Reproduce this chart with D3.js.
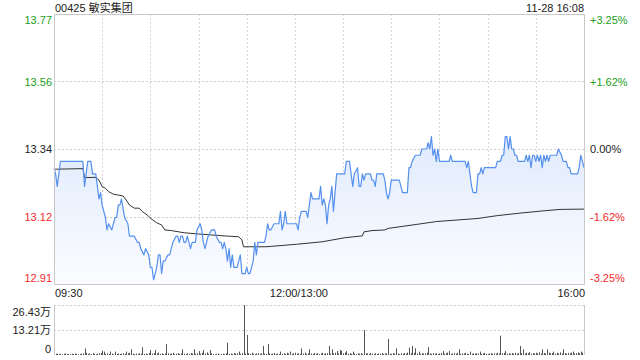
<!DOCTYPE html>
<html>
<head>
<meta charset="utf-8">
<script src="https://cdn.jsdelivr.net/npm/d3@7"></script>
<style>
  body { margin: 0; background: #fff; }
  text { font-family: Arial, "Liberation Sans", "Noto Sans CJK SC", sans-serif; font-size: 11px; }
</style>
</head>
<body>
<svg width="640" height="360"></svg>
<script>
// minute offsets from 09:30 (lunch break skipped, 0..330)
const priceIdx = [0,1,2,4,18,19,20,21,23,24,26,27,28,29,30,32,33,34,36,38,39,40,41,42,44,46,47,50,52,53,54,56,57,59,60,61,62,64,65,66,67,68,69,71,72,73,74,76,77,78,79,80,81,82,83,85,86,88,89,91,92,93,94,96,98,100,101,103,104,105,106,107,108,109,110,111,112,114,116,117,119,120,121,122,123,124,125,126,127,131,132,133,134,135,137,140,141,142,143,144,145,151,152,153,154,157,158,159,160,161,165,166,167,168,169,170,171,172,173,174,175,176,181,182,184,185,186,187,189,190,191,192,193,194,197,198,199,200,201,205,206,207,208,209,210,215,216,217,220,221,222,223,225,228,229,232,233,234,235,236,237,238,239,240,246,247,248,256,257,258,259,260,261,263,264,265,266,267,268,275,276,278,279,280,281,282,283,284,285,286,287,288,289,293,294,295,296,297,298,299,300,301,302,303,304,305,306,307,308,309,313,314,316,317,319,320,321,322,326,327,328,329,330];
const priceVal = [13.28,13.26,13.22,13.30,13.30,13.22,13.26,13.30,13.30,13.26,13.26,13.22,13.18,13.20,13.16,13.12,13.08,13.10,13.08,13.12,13.12,13.16,13.16,13.18,13.12,13.10,13.06,13.06,13.04,13.04,13.02,13.00,13.02,13.00,12.96,12.96,12.92,12.96,13.00,13.00,12.94,12.98,12.98,13.00,13.00,13.02,13.04,13.06,13.06,13.04,13.06,13.06,13.04,13.04,13.06,13.02,13.04,13.04,13.08,13.10,13.08,13.04,13.02,13.06,13.08,13.08,13.06,13.04,13.04,13.02,13.04,13.02,12.98,13.02,12.96,13.00,12.96,12.96,13.00,12.94,12.94,12.96,12.94,12.94,12.96,12.98,13.04,13.00,13.04,13.04,13.06,13.10,13.08,13.08,13.10,13.10,13.14,13.08,13.10,13.14,13.10,13.10,13.08,13.12,13.14,13.14,13.12,13.16,13.20,13.18,13.18,13.22,13.16,13.18,13.16,13.10,13.16,13.18,13.22,13.14,13.20,13.26,13.26,13.30,13.30,13.26,13.22,13.26,13.28,13.22,13.22,13.26,13.24,13.26,13.26,13.24,13.24,13.22,13.26,13.26,13.24,13.20,13.18,13.20,13.24,13.24,13.22,13.20,13.20,13.28,13.28,13.30,13.32,13.32,13.34,13.34,13.36,13.34,13.38,13.32,13.34,13.30,13.34,13.30,13.30,13.32,13.30,13.30,13.28,13.30,13.26,13.22,13.20,13.20,13.26,13.26,13.28,13.26,13.28,13.28,13.30,13.30,13.32,13.32,13.38,13.38,13.34,13.38,13.34,13.34,13.32,13.32,13.30,13.30,13.32,13.30,13.32,13.28,13.32,13.32,13.30,13.32,13.30,13.32,13.28,13.32,13.30,13.32,13.30,13.32,13.32,13.34,13.32,13.30,13.30,13.28,13.28,13.26,13.26,13.28,13.32,13.30,13.28];

const avgIdx = [0,18,19,26,28,30,32,34,37,40,43,45,47,50,53,55,58,61,64,67,69,73,81,90,98,106,115,117,118,132,151,167,181,192,193,198,206,208,226,238,264,276,290,304,315,330];
const avgVal = [13.275,13.277,13.248,13.249,13.240,13.219,13.214,13.203,13.195,13.192,13.189,13.176,13.160,13.150,13.150,13.139,13.128,13.114,13.103,13.096,13.080,13.078,13.071,13.067,13.064,13.061,13.058,13.048,13.026,13.026,13.034,13.042,13.055,13.061,13.074,13.078,13.080,13.085,13.098,13.107,13.117,13.126,13.134,13.141,13.146,13.147];

// volume per minute, in 万 shares
const volume = [
  1.2,0.6,0.8,0.5,0.7,0.4,0.6,0.9,0.5,0.6,
  0.4,0.7,0.5,0.8,0.6,0.4,0.5,0.7,0.9,3.5,
  1.2,0.6,0.8,0.5,1.0,0.6,0.4,0.7,0.9,1.1,
  2.3,1.8,0.6,0.9,0.5,1.8,0.7,0.4,1.8,0.6,
  0.8,0.5,0.7,1.0,0.6,1.8,0.9,1.2,3.0,0.7,
  0.5,0.8,0.6,0.9,0.7,4.1,0.6,0.8,0.5,1.1,
  2.6,0.7,1.0,2.6,0.8,1.3,0.6,0.9,0.5,0.8,
  5.8,0.9,0.6,0.8,1.2,0.5,0.7,1.0,0.6,0.8,
  3.0,0.7,0.5,0.9,0.6,1.1,0.8,3.0,0.6,0.9,
  2.1,0.7,1.2,2.6,0.8,1.4,0.6,2.6,0.9,0.5,
  0.4,0.6,0.8,0.3,0.5,0.7,0.4,0.9,6.5,0.6,
  0.8,0.5,1.1,0.7,0.9,1.8,0.6,1.0,26.43,0.8,
  10.6,0.9,0.6,1.2,0.7,0.5,0.8,1.0,0.6,0.9,
  4.8,0.7,0.6,5.8,0.9,0.5,0.7,1.1,0.6,0.8,
  0.5,1.8,0.7,0.9,0.6,1.2,0.8,1.8,0.6,0.9,
  1.2,0.7,0.9,0.6,3.5,0.8,1.3,0.6,0.9,3.0,
  0.8,0.6,1.1,0.7,0.9,0.5,0.8,1.2,0.6,0.9,
  1.0,4.8,0.7,3.0,0.9,1.2,2.1,0.8,2.6,2.3,
  0.9,1.3,2.1,0.7,1.0,0.6,1.8,0.8,0.5,0.9,
  0.7,1.0,0.6,13.2,0.8,0.9,0.5,1.1,0.7,0.6,
  0.9,0.5,0.8,0.7,1.0,0.6,0.8,0.9,8.5,0.7,
  0.6,1.0,0.8,3.5,0.7,0.5,0.9,0.6,1.1,0.7,
  1.3,3.9,1.0,4.8,1.2,3.5,0.8,1.8,0.6,1.0,
  0.7,0.9,1.2,4.1,0.8,0.6,1.0,0.7,0.9,0.5,
  0.8,1.1,2.1,0.7,0.9,1.3,2.1,0.6,0.8,1.0,
  0.7,1.2,3.0,0.6,0.9,0.8,1.1,0.7,0.5,1.8,
  0.6,0.9,0.7,1.0,0.8,1.8,0.6,0.9,1.1,0.7,
  0.5,0.8,1.0,0.6,0.9,0.7,1.2,0.8,10.2,0.9,
  1.1,2.1,0.7,0.9,0.6,1.0,0.8,1.2,0.7,0.9,
  4.8,1.0,3.0,0.8,1.2,0.9,1.5,0.7,1.0,0.8,
  1.2,0.9,1.4,0.7,3.0,1.1,0.8,3.0,1.3,0.9,
  1.0,1.8,0.7,1.2,0.9,1.4,0.8,3.0,1.0,0.7,
  1.1,0.9,1.3,1.8,0.8,1.0,1.4,0.9,1.8,1.2,
  3.5
];

const prevClose = 13.34;
const priceTicks = ["13.77", "13.56", "13.34", "13.12", "12.91"];
const pctTicks = ["+3.25%", "+1.62%", "0.00%", "-1.62%", "-3.25%"];
const timeLabels = ["09:30", "12:00/13:00", "16:00"];
const volTicks = ["26.43万", "13.21万", "0"];
const title = "00425 敏实集团";
const stamp = "11-28 16:08";

let svg = d3.select("svg");

const plotLeft = 54, plotRight = 584, plotTop = 14, plotBottom = 284;
const volTop = 305, volBottom = 355;
const volMax = 26.43;

let x = d3.scaleLinear().domain([0, 330]).range([plotLeft, plotRight]);
let y = d3.scaleLinear()
    .domain([prevClose * (1 - 0.0325), prevClose * (1 + 0.0325)])
    .range([plotBottom, plotTop]);
let yv = d3.scaleLinear().domain([0, volMax]).range([volBottom, volTop]);

const green = "#22a022", red = "#f02a2a", black = "#222";
const tickColor = (i) => i < 2 ? green : (i == 2 ? black : red);
const levels = [2, 1, 0, -1, -2].map(k => prevClose * (1 + k * 0.01625));

// gradient for the area under the price line
let defs = svg.append("defs");
let grad = defs.append("linearGradient")
    .attr("id", "fillGrad")
    .attr("gradientUnits", "userSpaceOnUse")
    .attr("x1", 0).attr("x2", 0)
    .attr("y1", plotTop).attr("y2", plotBottom);
grad.append("stop").attr("offset", 0).attr("stop-color", "#cadcfa");
grad.append("stop").attr("offset", 1).attr("stop-color", "#fbfcff");

// grid
let grid = svg.append("g");
grid.selectAll(".hgrid")
    .data(levels.slice(1, 4))
    .enter()
    .append("line")
    .attr("x1", plotLeft).attr("x2", plotRight)
    .attr("y1", d => Math.round(y(d)) + 0.5)
    .attr("y2", d => Math.round(y(d)) + 0.5)
    .attr("stroke", "#cfcfcf")
    .attr("stroke-dasharray", "2,2");

grid.selectAll(".vgrid")
    .data(d3.range(30, 330, 30))
    .enter()
    .append("line")
    .attr("x1", d => Math.round(x(d)) + 0.5)
    .attr("x2", d => Math.round(x(d)) + 0.5)
    .attr("y1", plotTop).attr("y2", plotBottom)
    .attr("stroke", "#d6d6d6")
    .attr("stroke-dasharray", "2,2");

// watermark
svg.append("text")
    .attr("x", 574).attr("y", 282)
    .attr("text-anchor", "end")
    .attr("fill", "#d0d0d0")
    .text("sina.com");

let pts = priceIdx.map((d, i) => [d, priceVal[i]]);

svg.append("path")
    .datum(pts)
    .attr("fill", "url(#fillGrad)")
    .attr("d", d3.area()
        .x(d => x(d[0]))
        .y0(plotBottom)
        .y1(d => y(d[1])));

svg.append("path")
    .datum(avgIdx.map((d, i) => [d, avgVal[i]]))
    .attr("fill", "none")
    .attr("stroke", "#333")
    .attr("stroke-width", 1)
    .attr("d", d3.line().x(d => x(d[0])).y(d => y(d[1])));

svg.append("path")
    .datum(pts)
    .attr("fill", "none")
    .attr("stroke", "#5590ee")
    .attr("stroke-width", 1.2)
    .attr("stroke-linejoin", "round")
    .attr("d", d3.line().x(d => x(d[0])).y(d => y(d[1])));

// frame of main plot
svg.append("path")
    .attr("fill", "none")
    .attr("stroke", "#c8c8c8")
    .attr("d", `M${plotLeft + 0.5},${plotBottom + 0.5}V${plotTop + 0.5}H${plotRight + 0.5}V${plotBottom + 0.5}Z`);

// labels
svg.append("text").attr("x", 55).attr("y", 12).attr("fill", "#222").text(title);
svg.append("text").attr("x", 584).attr("y", 12).attr("text-anchor", "end").attr("fill", "#222").text(stamp);

const nudge = [6, 0, 0, 0, -6];
svg.selectAll(".ptick")
    .data(priceTicks)
    .enter()
    .append("text")
    .attr("x", 52)
    .attr("y", (d, i) => y(levels[i]) + 4 + nudge[i])
    .attr("text-anchor", "end")
    .attr("fill", (d, i) => tickColor(i))
    .text(d => d);

svg.selectAll(".pcttick")
    .data(pctTicks)
    .enter()
    .append("text")
    .attr("x", 590)
    .attr("y", (d, i) => y(levels[i]) + 4 + nudge[i])
    .attr("fill", (d, i) => tickColor(i))
    .text(d => d);

svg.selectAll(".ttick")
    .data(timeLabels)
    .enter()
    .append("text")
    .attr("x", (d, i) => [x(0) + 1, x(150) + 4, x(330) + 1][i])
    .attr("y", 297)
    .attr("text-anchor", (d, i) => ["start", "middle", "end"][i])
    .attr("fill", "#222")
    .text(d => d);

// volume panel
let vol = svg.append("g");
vol.selectAll(".vgridline")
    .data([volMax, volMax / 2])
    .enter()
    .append("line")
    .attr("x1", plotLeft).attr("x2", plotRight)
    .attr("y1", d => Math.round(yv(d)) + 0.5)
    .attr("y2", d => Math.round(yv(d)) + 0.5)
    .attr("stroke", "#cfcfcf")
    .attr("stroke-dasharray", "2,2");

vol.selectAll(".bar")
    .data(volume)
    .enter()
    .append("rect")
    .attr("x", (d, i) => Math.round(x(i)))
    .attr("y", d => yv(d))
    .attr("width", 1)
    .attr("height", d => volBottom - yv(d))
    .attr("fill", "#555");

vol.append("line")
    .attr("x1", plotLeft + 0.5).attr("x2", plotLeft + 0.5)
    .attr("y1", volTop).attr("y2", volBottom)
    .attr("stroke", "#c8c8c8");
vol.append("line")
    .attr("x1", plotRight + 0.5).attr("x2", plotRight + 0.5)
    .attr("y1", volTop).attr("y2", volBottom)
    .attr("stroke", "#c8c8c8");

const vnudge = [7, 0, -6];
vol.selectAll(".vtick")
    .data(volTicks)
    .enter()
    .append("text")
    .attr("x", 51)
    .attr("y", (d, i) => yv([volMax, volMax / 2, 0][i]) + 4 + vnudge[i])
    .attr("text-anchor", "end")
    .attr("fill", "#222")
    .text(d => d);
</script>
</body>
</html>
